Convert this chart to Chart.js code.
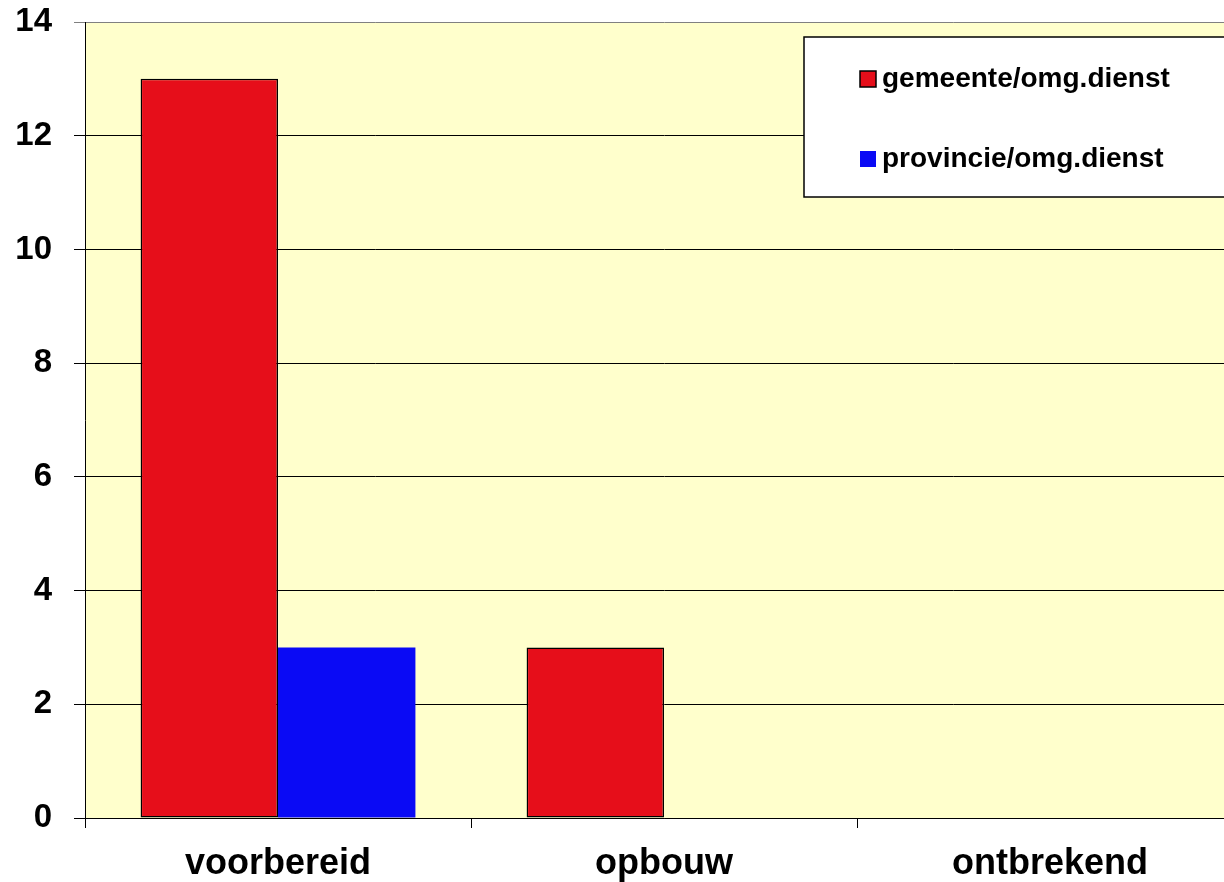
<!DOCTYPE html>
<html>
<head>
<meta charset="utf-8">
<script src="https://cdn.jsdelivr.net/npm/chart.js@4"></script>
<style>
  html, body { margin: 0; padding: 0; background: #ffffff; overflow: hidden; }
  #wrap { position: absolute; left: 0; top: 0; width: 1243px; height: 882px; }
</style>
</head>
<body>
<div id="wrap"><canvas id="c"></canvas></div>
<script>
const categories = ['voorbereid', 'opbouw', 'ontbrekend'];
const seriesNames = ['gemeente/omg.dienst', 'provincie/omg.dienst'];
const gemeente = [13, 3, 0];
const provincie = [3, 0, 0];
const yTicks = [0, 2, 4, 6, 8, 10, 12, 14];

const FONT = '"Liberation Sans", Arial, sans-serif';
const RED = '#E60E1A';
const BLUE = '#0A0AF5';

const bgPlugin = {
  id: 'bg',
  beforeDraw(chart) {
    const { ctx, chartArea: a } = chart;
    ctx.save();
    ctx.fillStyle = '#FFFFCC';
    ctx.fillRect(a.left, a.top, a.right - a.left, a.bottom - a.top);
    ctx.restore();
  }
};

const legendPlugin = {
  id: 'boxLegend',
  afterDraw(chart) {
    const ctx = chart.ctx;
    ctx.save();
    ctx.fillStyle = '#ffffff';
    ctx.strokeStyle = '#000000';
    ctx.lineWidth = 1.5;
    ctx.fillRect(804, 37, 460, 160);
    ctx.strokeRect(804, 37, 460, 160);
    const rows = [79, 159];
    chart.data.datasets.forEach((ds, i) => {
      const y = rows[i];
      ctx.fillStyle = ds.backgroundColor;
      ctx.fillRect(860, y - 8, 16, 16);
      if (ds.borderWidth) {
        ctx.strokeStyle = '#000';
        ctx.lineWidth = 1.5;
        ctx.strokeRect(860, y - 8, 16, 16);
      }
      ctx.fillStyle = '#000';
      ctx.font = 'bold 28px ' + FONT;
      ctx.textBaseline = 'middle';
      ctx.textAlign = 'left';
      ctx.fillText(ds.label, 882, y);
    });
    ctx.restore();
  }
};

new Chart(document.getElementById('c'), {
  type: 'bar',
  data: {
    labels: categories,
    datasets: [
      { label: seriesNames[0], data: gemeente, backgroundColor: RED, borderColor: '#000', borderWidth: 1.5, borderSkipped: false },
      { label: seriesNames[1], data: provincie, backgroundColor: BLUE, borderWidth: 0 }
    ]
  },
  options: {
    responsive: true,
    maintainAspectRatio: false,
    animation: false,
    devicePixelRatio: 1,
    categoryPercentage: 0.712,
    barPercentage: 1.0,
    layout: { padding: { top: 22, right: 0, left: 0, bottom: 0 } },
    plugins: { legend: { display: false }, tooltip: { enabled: false } },
    scales: {
      x: {
        grid: { offset: true, drawOnChartArea: false, drawTicks: true, tickLength: 10, color: '#000', lineWidth: 1 },
        border: { display: true, color: '#000', width: 1 },
        ticks: { color: '#000', font: { family: FONT, size: 36, weight: 'bold' }, padding: 14, maxRotation: 0 },
        afterFit(s) { s.height = 64; s.paddingLeft = 0; s.paddingRight = 0; }
      },
      y: {
        min: 0, max: 14,
        afterBuildTicks(s) { s.ticks = yTicks.map(v => ({ value: v })); },
        grid: {
          color: (c) => c.tick && c.tick.value === 14 ? '#808080' : '#000',
          lineWidth: 1, drawTicks: true, tickLength: 11
        },
        border: { display: true, color: '#000', width: 1 },
        ticks: { color: '#000', font: { family: FONT, size: 33, weight: 'bold' }, padding: 22 },
        afterFit(s) { s.width = 85; s.paddingTop = 0; s.paddingBottom = 0; }
      }
    }
  },
  plugins: [bgPlugin, legendPlugin]
});
</script>
</body>
</html>
